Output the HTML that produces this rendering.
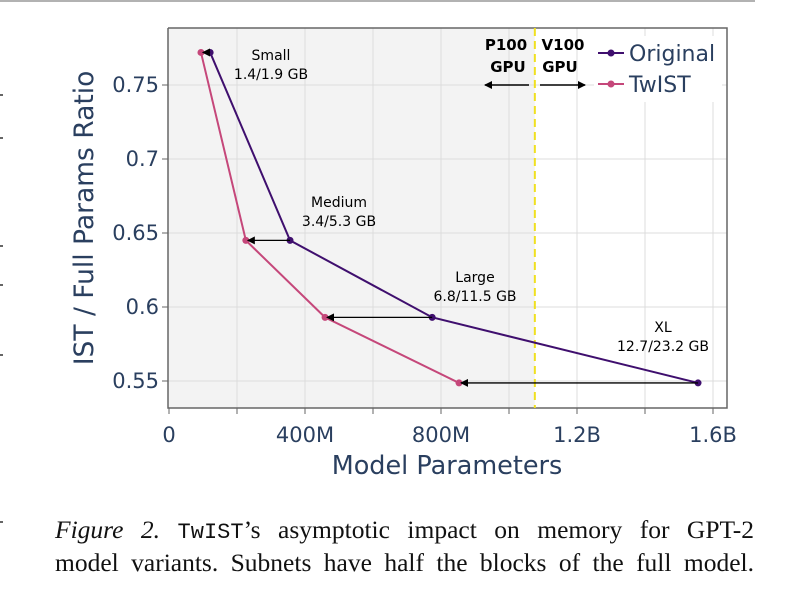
<!DOCTYPE html>
<html><head><meta charset="utf-8"><style>
body{margin:0;background:#fff;width:810px;height:609px;overflow:hidden;position:relative}
svg{position:absolute;left:0;top:0}
.cap{position:absolute;left:55px;width:699px;font-family:"Liberation Serif",serif;font-size:25.5px;line-height:33px;color:#111;text-align:justify;text-align-last:justify}
.l1{top:513px}
.l2{top:546px}
.mono{font-family:"Liberation Mono",monospace;font-size:22px}
</style></head><body>
<svg id="chart" width="810" height="609"></svg>
<div>
<div class="cap l1"><i>Figure 2.</i> <span class="mono">TwIST</span>’s asymptotic impact on memory for GPT-2</div>
<div class="cap l2">model variants. Subnets have half the blocks of the full model.</div>
</div>
<script>
const categories=["Small","Medium","Large","XL"];
const memLabels=["1.4/1.9 GB","3.4/5.3 GB","6.8/11.5 GB","12.7/23.2 GB"];
const originalX=[121,356,774,1556];
const twistX=[94,226,459,853];
const ratioY=[0.772,0.645,0.593,0.5487];
const xTicks=[0,400,800,1200,1600];
const xTickLabels=["0","400M","800M","1.2B","1.6B"];
const yTicks=[0.55,0.6,0.65,0.7,0.75];
const yTickLabels=["0.55","0.6","0.65","0.7","0.75"];
const gpuLimit=1076;
const NS="http://www.w3.org/2000/svg";
const svg=document.getElementById('chart');
const L=168,R=727,T=28,B=408;
const sx=v=>169+v*136/400;
const sy=v=>85+(0.75-v)*74/0.05;
function mk(t,a,p){const e=document.createElementNS(NS,t);for(const k in a)e.setAttribute(k,a[k]);(p||svg).appendChild(e);return e;}
const defs=mk('defs',{});
const mkr=mk('marker',{id:'ah',markerWidth:8,markerHeight:8,refX:7,refY:4,orient:'auto',markerUnits:'userSpaceOnUse'},defs);
mk('path',{d:'M0,0 L8,4 L0,8 Z',fill:'#000'},mkr);
mk('line',{x1:0,y1:1,x2:755,y2:1,stroke:'#999','stroke-width':1.5});
let e=mk('rect',{x:L,y:T,width:sx(gpuLimit)-L,height:B-T,fill:'#f3f3f3'});

for(let v=200;v<=1600;v+=200){e=mk('line',{x1:sx(v),y1:T,x2:sx(v),y2:B,stroke:'#dcdcdc','stroke-width':1});}
yTicks.forEach((v,i)=>{e=mk('line',{x1:L,y1:sy(v),x2:R,y2:sy(v),stroke:'#dcdcdc','stroke-width':1});
 mk('line',{x1:L-6,y1:sy(v),x2:L,y2:sy(v),stroke:'#666'});
 e=mk('text',{x:L-9,y:sy(v)+7,'text-anchor':'end','font-size':21,fill:'#2a3f5f','font-family':'DejaVu Sans, sans-serif'});e.textContent=yTickLabels[i];});
for(let v=0;v<=1600;v+=200)mk('line',{x1:sx(v),y1:B,x2:sx(v),y2:B+6,stroke:'#666'});
xTicks.forEach((v,i)=>{e=mk('text',{x:sx(v),y:442,'text-anchor':'middle','font-size':21,fill:'#2a3f5f','font-family':'DejaVu Sans, sans-serif'});e.textContent=xTickLabels[i];});
mk('polyline',{points:`${L},${T} ${R},${T} ${R},${B} ${L},${B} ${L},${T}`,fill:'none',stroke:'#666','stroke-width':1.5});
e=mk('line',{x1:sx(gpuLimit),y1:T,x2:sx(gpuLimit),y2:B,stroke:'#f0e020','stroke-width':2,'stroke-dasharray':'8,5'});
const lg=mk('g',{});
mk('rect',{x:594,y:36,width:128,height:66,fill:'#fff'},lg);
[['Original','#3f0f6e',53],['TwIST','#c5477a',84]].forEach(([n,c,y])=>{const g=mk('g',{},lg);
 mk('line',{x1:598,y1:y,x2:624,y2:y,stroke:c,'stroke-width':2},g);mk('circle',{cx:611,cy:y,r:3.5,fill:c},g);
 const t=mk('text',{x:629,y:y+8,'font-size':22,fill:'#2a3f5f','font-family':'DejaVu Sans, sans-serif'},g);t.textContent=n;});
[['P100',506,50],['GPU',508,72],['V100',563,50],['GPU',560,72]].forEach(([s,x,y])=>{e=mk('text',{x:x,y:y,'text-anchor':'middle','font-size':15,'font-weight':'bold','font-family':'DejaVu Sans, sans-serif'});e.textContent=s;});
mk('line',{x1:529,y1:85,x2:485,y2:85,stroke:'#000','stroke-width':1.5,'marker-end':'url(#ah)'});
mk('line',{x1:540,y1:85,x2:585,y2:85,stroke:'#000','stroke-width':1.5,'marker-end':'url(#ah)'});
function series(xs,c,name){const p=xs.map((x,i)=>sx(x)+','+sy(ratioY[i])).join(' ');e=mk('polyline',{points:p,fill:'none',stroke:c,'stroke-width':2});
 xs.forEach((x,i)=>{e=mk('circle',{cx:sx(x),cy:sy(ratioY[i]),r:3.5,fill:c});});}
series(originalX,'#3f0f6e','original');series(twistX,'#c5477a','twist');
categories.forEach((c,i)=>{e=mk('line',{x1:sx(originalX[i]),y1:sy(ratioY[i]),x2:sx(twistX[i])+2,y2:sy(ratioY[i]),stroke:'#000','stroke-width':1.3,'marker-end':'url(#ah)'});});
const annX=[271,339,475,663],annY=[60,207,282,332];
categories.forEach((c,i)=>{const g=mk('g',{});
 let t=mk('text',{x:annX[i],y:annY[i],'text-anchor':'middle','font-size':14,'font-family':'DejaVu Sans, sans-serif'},g);t.textContent=c;
 t=mk('text',{x:annX[i],y:annY[i]+19,'text-anchor':'middle','font-size':14,'font-family':'DejaVu Sans, sans-serif'},g);t.textContent=memLabels[i];});
e=mk('text',{x:447,y:474,'text-anchor':'middle','font-size':25.5,fill:'#2a3f5f','font-family':'DejaVu Sans, sans-serif'});e.textContent='Model Parameters';
e=mk('text',{x:0,y:0,'text-anchor':'middle','font-size':26.5,fill:'#2a3f5f','font-family':'DejaVu Sans, sans-serif',transform:'translate(93,218) rotate(-90)'});e.textContent='IST / Full Params Ratio';
[95,138,246,285,355,522].forEach(y=>mk('line',{x1:0,y1:y,x2:3,y2:y,stroke:'#333','stroke-width':1.5}));
</script>
</body></html>
